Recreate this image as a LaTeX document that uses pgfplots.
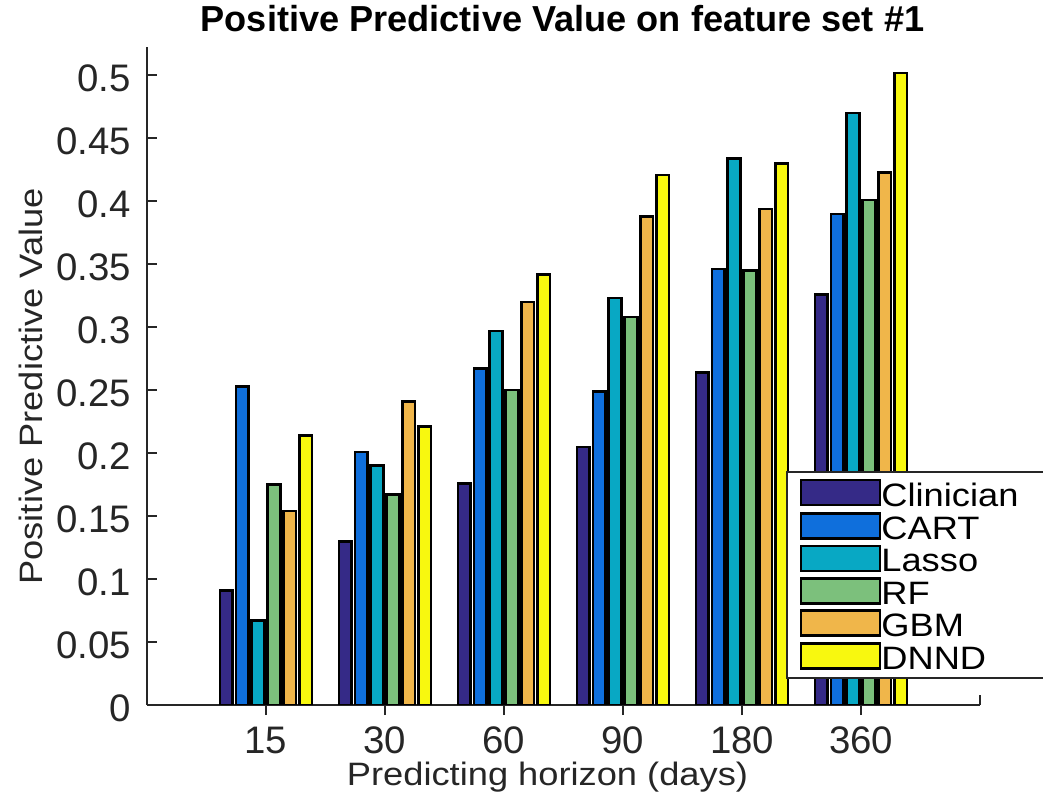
\documentclass[border=0pt]{standalone}
\usepackage{pgfplots}
\pgfplotsset{compat=1.18}
\usepackage{pgfplotstable}
\usepackage{fontspec}
\setmainfont{Liberation Sans}
\newfontfamily\lblfont[FakeStretch=1.12]{Liberation Sans}
\definecolor{cClin}{HTML}{352A87}
\definecolor{cCART}{HTML}{0F6FDC}
\definecolor{cLasso}{HTML}{08A8C4}
\definecolor{cRF}{HTML}{7CC07C}
\definecolor{cGBM}{HTML}{F0B64A}
\definecolor{cDNND}{HTML}{F8F80F}
\definecolor{axgray}{HTML}{262626}

\pgfplotstableread{
x Clin CART Lasso RF GBM DNND
1 0.091 0.253 0.067 0.175 0.154 0.214
2 0.130 0.201 0.190 0.167 0.241 0.221
3 0.176 0.267 0.297 0.250 0.320 0.342
4 0.205 0.249 0.323 0.308 0.388 0.421
5 0.264 0.346 0.434 0.345 0.394 0.430
6 0.326 0.390 0.470 0.401 0.423 0.502
}\datatable

\begin{document}
\begin{tikzpicture}
\begin{axis}[
  at={(147bp,90bp)}, anchor=south west,
  scale only axis, width=833bp, height=658.3bp,
  xmin=0, xmax=7, ymin=0, ymax=0.5227,
  axis lines*=left,
  axis line style={axgray, line width=2bp},
  tick align=inside,
  major tick length=10bp,
  every tick/.style={axgray, line width=2bp},
  xtick={1,2,3,4,5,6},
  xticklabels={15,30,60,90,180,360},
  extra x ticks={7},
  extra x tick labels={},
  extra x tick style={tick align=inside, major tick length=10bp},
  ytick={0,0.05,0.1,0.15,0.2,0.25,0.3,0.35,0.4,0.45,0.5},
  yticklabels={0,0.05,0.1,0.15,0.2,0.25,0.3,0.35,0.4,0.45,0.5},
  scaled y ticks=false,
  ticklabel style={font=\fontsize{38.5}{38.5}\selectfont, text=axgray, inner sep=0pt},
  xticklabel style={anchor=base, yshift=-38bp},
  yticklabel style={anchor=east, xshift=-16bp, yshift=-3bp},
  xlabel={Predicting horizon (days)},
  xlabel style={font=\lblfont\fontsize{32.5}{32.5}\selectfont, text=axgray, at={(axis description cs:0.4808,0)}, anchor=base, yshift=-80bp, inner sep=0pt},
  ylabel={Positive Predictive Value},
  ylabel style={font=\lblfont\fontsize{32.5}{32.5}\selectfont, text=axgray, at={(axis description cs:-0.1249,0.484)}, anchor=base, inner sep=0pt},
  title={Positive Predictive Value on feature set \#1},
  title style={font=\bfseries\fontsize{36.3}{36.3}\selectfont, at={(axis description cs:0.4988,1)}, anchor=base, yshift=9bp, inner sep=0pt},
  ybar, bar width=0.1067,
  every axis plot/.append style={draw=black, line width=2.5bp},
  legend cell align=left,
  legend image code/.code={\draw[#1, line width=2.5bp] (0bp,-12.5bp) rectangle (79bp,12.5bp);},
  legend style={at={(axis description cs:0.767,0.3555)}, anchor=north west,
    draw=axgray, line width=2bp, fill=white,
    font=\lblfont\fontsize{32.5}{32.5}\selectfont,
    inner xsep=13bp, inner ysep=7bp,
    nodes={inner sep=0pt, yshift=-3bp},
    row sep=3.8bp,
    /tikz/every even column/.append style={column sep=8bp}},
]
\addplot[fill=cClin, bar shift=-0.3333] table[x=x,y=Clin]{\datatable};
\addplot[fill=cCART, bar shift=-0.2] table[x=x,y=CART]{\datatable};
\addplot[fill=cLasso, bar shift=-0.0667] table[x=x,y=Lasso]{\datatable};
\addplot[fill=cRF, bar shift=0.0667] table[x=x,y=RF]{\datatable};
\addplot[fill=cGBM, bar shift=0.2] table[x=x,y=GBM]{\datatable};
\addplot[fill=cDNND, bar shift=0.3333] table[x=x,y=DNND]{\datatable};
\addlegendentry{Clinician\hspace*{30bp}}
\addlegendentry{CART}
\addlegendentry{Lasso}
\addlegendentry{RF}
\addlegendentry{GBM}
\addlegendentry{DNND}
\end{axis}
\pgfresetboundingbox
\useasboundingbox (0,0) rectangle (1043bp,795bp);
\end{tikzpicture}
\end{document}
